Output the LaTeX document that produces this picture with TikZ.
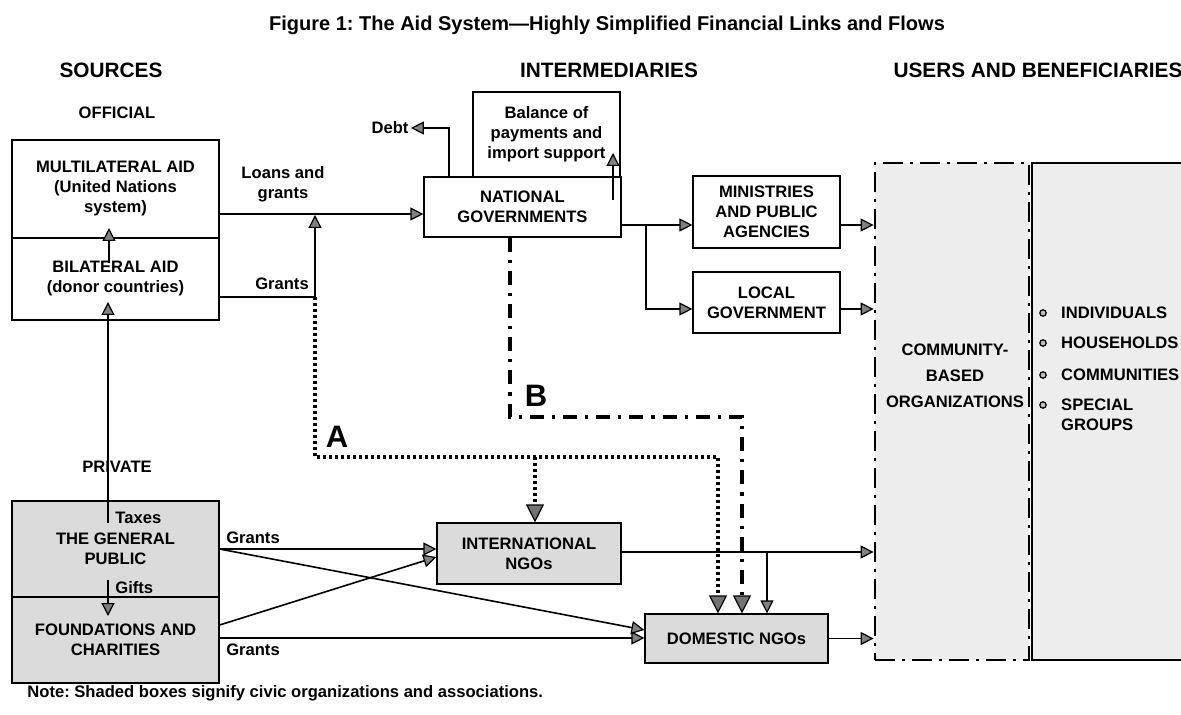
\documentclass[tikz,border=0pt]{standalone}
\usepackage{fontspec}
\setmainfont{Liberation Sans}
\usetikzlibrary{positioning,arrows.meta}
\frenchspacing

\begin{document}
\begin{tikzpicture}[x=0.5pt, y=-0.5pt,
  font=\fontsize{8.3}{10}\selectfont\bfseries,
  gtip/.style={-{Triangle[length=6.5pt,width=6.5pt,line width=0.6pt,fill=black!50]}},
  btip/.style={-{Triangle[length=9pt,width=9pt,line width=0.6pt,fill=black!55]}},
  conn/.style={draw, line width=0.8pt},
  flow/.style={conn, gtip},
  box/.style={draw, line width=0.6pt, align=center, inner sep=2pt},
  civic/.style={box, fill=black!14},
  lbl/.style={inner sep=1pt, align=center},
  colhead/.style={inner sep=1pt, font=\fontsize{10.4}{12}\selectfont\bfseries},
  pathA/.style={draw, line width=1.6pt, dash pattern=on 1.6pt off 1.4pt, btip},
  pathB/.style={draw, line width=1.6pt, dash pattern=on 7pt off 4pt on 1.6pt off 4pt, btip},
  pathlabel/.style={inner sep=1pt, font=\fontsize{15.5}{18}\selectfont\bfseries},
  bul/.style={circle, draw, line width=0.6pt, fill=black!25, inner sep=0pt, minimum size=3.2pt}]
\useasboundingbox (0,0) rectangle (1181,715);
\fill[white] (0,0) rectangle (1181,715);
\clip (0,0) rectangle (1181,715);

% headings
\node[inner sep=1pt, font=\fontsize{10}{12}\selectfont\bfseries] (title) at (607,25)
  {Figure 1: The Aid System---Highly Simplified Financial Links and Flows};
\node[colhead] (hsrc) at (111,70) {SOURCES};
\node[colhead] (hint) at (609,70) {INTERMEDIARIES};
\node[colhead] (husr) at (1038,70) {USERS AND BENEFICIARIES};
\node[lbl] (official) at (117,113) {OFFICIAL};
\node[lbl] (private) at (117,467) {PRIVATE};

% users and beneficiaries
\node[draw, line width=0.6pt, fill=black!7, minimum width=94pt, minimum height=248.5pt] (users) at (1126,411.5) {};
\node[draw, line width=1.4pt, dash pattern=on 10pt off 3.5pt on 1.5pt off 3.5pt, fill=black!7,
  minimum width=77pt, minimum height=248.5pt] (cbo) at (952,411.5) {};
\node[lbl, font=\fontsize{8.3}{13}\selectfont\bfseries] (cbotext) at (955,376) {COMMUNITY-\\BASED\\ORGANIZATIONS};
\foreach \w/\y [count=\i] in {INDIVIDUALS/313, HOUSEHOLDS/343, COMMUNITIES/375, SPECIAL/405} {
  \node[bul] (bul\i) at (1043,\y) {};
  \node[lbl, right=6pt of bul\i] (item\i) {\w};
}
\node[lbl, anchor=west] (item5) at (item4.west |- 0,425) {GROUPS};

% sources
\node[box, minimum width=103.5pt, minimum height=49pt] (multi) at (115.5,189) {MULTILATERAL AID\\(United Nations\\system)};
\node[box, minimum width=103.5pt, minimum height=41pt] (bilat) at (115.5,279) {BILATERAL AID\\(donor countries)};
\node[civic, minimum width=103.5pt, minimum height=48pt] (public) at (115.5,549) {THE GENERAL\\PUBLIC};
\node[civic, minimum width=103.5pt, minimum height=43pt] (found) at (115.5,640) {FOUNDATIONS AND\\CHARITIES};

% intermediaries
\node[box, minimum width=73.5pt, minimum height=42.5pt] (bop) at (546.5,134.5) {Balance of\\payments and\\import support};
\node[box, fill=white, minimum width=98.5pt, minimum height=30pt] (natgov) at (522.5,207) {NATIONAL\\GOVERNMENTS};
\node[box, minimum width=73.5pt, minimum height=36pt] (minist) at (766.5,212) {MINISTRIES\\AND PUBLIC\\AGENCIES};
\node[box, minimum width=73.5pt, minimum height=30.5pt] (local) at (766.5,302.5) {LOCAL\\GOVERNMENT};
\node[civic, minimum width=92pt, minimum height=30.5pt] (intl) at (529,553.5) {INTERNATIONAL\\NGOs};
\node[civic, minimum width=91.5pt, minimum height=24.5pt] (dom) at (736.5,638.5) {DOMESTIC NGOs};

% flow labels
\node[lbl] (loans) at (283,184) {Loans and\\grants};
\node[lbl] (grants1) at (282,284) {Grants};
\node[lbl] (grants2) at (253,538) {Grants};
\node[lbl] (grants3) at (253,650) {Grants};
\node[lbl, anchor=west] (taxes) at (113,518) {Taxes};
\node[lbl, anchor=west] (gifts) at (113,588) {Gifts};
\node[lbl] (debt) at (390,128) {Debt};
\node[pathlabel] (labA) at (337,437) {A};
\node[pathlabel] (labB) at (536,396) {B};
\node[lbl, anchor=west] (note) at (25,693) {Note: Shaded boxes signify civic organizations and associations.};

% official flows
\coordinate (gj) at (315,297);
\coordinate (bl1) at (109,263);
\coordinate (tx1) at (108,523);
\coordinate (gf1) at (108,580);
\coordinate (bp1) at (613,200);
\coordinate (nb) at (646,225);
\draw[flow] (bl1) -- (bl1 |- 0,228);
\draw[flow] (tx1) -- (tx1 |- 0,302);
\draw[flow] (gf1) -- (gf1 |- 0,616);
\draw[flow] (multi.east |- 0,214) -- (natgov.west |- 0,214);
\draw[conn] (bilat.east |- gj) -- (gj);
\draw[flow] (gj) -- (gj |- 0,215);
\draw[flow] (natgov.north -| 449,0) |- (debt.east);
\draw[flow] (bp1) -- (bp1 |- 0,153);
\draw[conn] (natgov.east |- nb) -- (nb);
\draw[flow] (nb) -- (minist.west |- nb);
\draw[flow] (nb) |- (local.west |- 0,309);
\draw[flow] (minist.east |- nb) -- (cbo.west |- nb);
\draw[flow] (local.east |- 0,309) -- (cbo.west |- 0,309);

% private flows
\coordinate (ib) at (767,552);
\draw[flow] (public.east) -- (intl.west |- public.east);
\draw[flow] (public.east) -- (dom.west |- 0,630);
\draw[flow] (found.east |- 0,625) -- (intl.west |- 0,557);
\draw[flow] (found.east |- 0,638) -- (dom.west |- 0,638);
\draw[flow] (intl.east |- ib) -- (cbo.west |- ib);
\draw[flow] (ib) -- (dom.north -| ib);
\draw[flow] (dom.east) -- (cbo.west |- dom.east);

% paths A and B
\coordinate (ac) at (315,457);
\coordinate (bc) at (510,417);
\draw[pathA] (gj) -- (ac) -| (dom.north -| 718,0);
\draw[pathA] (ac -| 535,0) -- (intl.north -| 535,0);
\draw[pathB] (natgov.south -| bc) -- (bc) -| (dom.north -| 742,0);
\end{tikzpicture}
\end{document}
